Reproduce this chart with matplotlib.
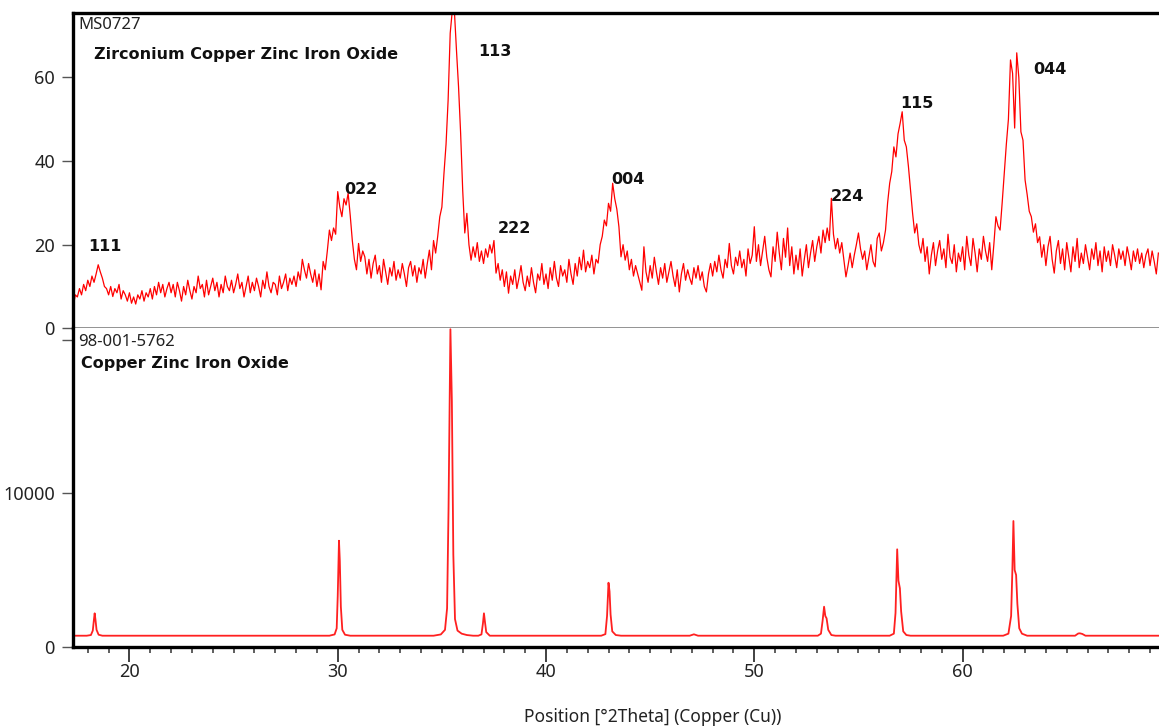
import matplotlib
matplotlib.use('Agg')
import matplotlib.pyplot as plt
from matplotlib.ticker import MultipleLocator
import numpy as np

plt.rcParams['font.family'] = ['Noto Sans', 'DejaVu Sans']

# measured pattern (MS0727), one value per 0.1 deg starting at 17.3
scan_start = 17.3
scan_step = 0.1
scan_counts = [
    5.2, 8.0, 7.5, 9.5, 8.0, 10.5, 9.0,                          # 17.3-17.9
    11.5, 10.0, 12.5, 11.0, 13.0, 15.2, 13.5, 12.0, 10.0, 9.5,    # 18
    8.0, 10.0, 7.6, 9.5, 8.5, 10.5, 7.0, 9.0, 8.0, 6.5,           # 19
    8.5, 6.0, 7.5, 5.8, 8.0, 7.0, 9.0, 6.5, 8.5, 7.5,             # 20
    9.5, 7.0, 10.0, 8.0, 11.0, 8.5, 10.5, 7.5, 9.5, 11.0,         # 21
    8.5, 10.5, 7.5, 11.0, 9.0, 6.5, 10.0, 8.0, 11.5, 9.0,         # 22
    7.0, 10.0, 8.5, 12.5, 9.5, 10.5, 7.5, 11.5, 8.0, 10.0,        # 23
    12.0, 9.0, 11.0, 7.5, 10.5, 8.5, 12.5, 10.0, 9.0, 11.5,       # 24
    8.5, 10.5, 13.0, 9.5, 11.0, 7.5, 10.0, 12.5, 8.5, 11.0,       # 25
    9.0, 12.0, 10.0, 7.5, 11.5, 9.5, 13.5, 10.0, 8.5, 11.0,       # 26
    10.5, 8.0, 12.5, 9.5, 11.0, 13.0, 9.0, 12.0, 10.5, 12.5,      # 27
    10.0, 13.5, 11.5, 16.5, 14.0, 12.0, 15.5, 13.0, 11.0, 14.0,   # 28
    10.0, 13.0, 9.2, 16.0, 14.0, 18.5, 23.5, 21.0, 24.0, 22.5,    # 29
    32.7, 29.0, 26.7, 31.0, 29.5, 32.3, 27.0, 21.0, 16.5, 14.0,   # 30
    20.3, 16.0, 18.5, 17.1, 13.0, 16.5, 12.0, 15.5, 17.5, 13.0,   # 31
    15.0, 11.0, 16.5, 13.5, 10.5, 14.5, 12.5, 16.0, 11.5, 14.0,   # 32
    12.0, 15.5, 13.0, 10.0, 14.5, 16.0, 12.5, 15.0, 11.0, 14.5,   # 33
    13.0, 16.5, 12.0, 15.5, 18.7, 14.0, 21.0, 18.0, 22.0, 26.7,   # 34
    29.0, 37.0, 44.0, 54.6, 70.6, 76.0, 76.0, 66.6, 57.8, 46.7,   # 35
    33.0, 22.8, 27.5, 20.0, 16.3, 19.5, 17.0, 20.5, 16.0, 18.5,   # 36
    15.5, 19.0, 17.0, 20.0, 18.0, 21.0, 13.2, 15.5, 11.5, 14.0,   # 37
    10.0, 13.5, 8.4, 12.5, 10.5, 14.0, 9.5, 12.0, 15.0, 11.0,     # 38
    9.0, 12.5, 10.0, 14.5, 11.0, 8.5, 13.0, 11.5, 15.5, 10.5,     # 39
    13.0, 9.5, 14.5, 11.5, 16.0, 12.0, 10.0, 15.0, 12.5, 14.0,    # 40
    11.0, 16.5, 13.0, 10.5, 15.5, 12.5, 17.0, 14.0, 18.7, 13.5,   # 41
    16.0, 14.5, 17.5, 13.0, 16.5, 15.6, 20.0, 22.0, 25.9, 24.5,   # 42
    29.9, 28.0, 34.7, 31.0, 28.5, 24.3, 17.1, 20.0, 16.3, 18.5,   # 43
    14.0, 16.5, 12.5, 15.0, 13.0, 11.0, 9.1, 19.5, 13.5, 11.0,    # 44
    15.0, 12.0, 17.0, 13.5, 10.5, 14.5, 12.0, 15.5, 11.0, 13.5,   # 45
    16.0, 12.5, 10.0, 14.0, 8.7, 13.0, 15.5, 11.5, 14.0, 12.0,    # 46
    10.5, 14.5, 12.0, 15.0, 11.5, 13.5, 10.0, 8.7, 13.0, 15.5,    # 47
    12.5, 16.0, 13.5, 17.5, 14.0, 12.0, 16.5, 14.5, 20.3, 15.0,   # 48
    13.0, 17.0, 15.0, 18.5, 14.5, 16.5, 12.5, 19.0, 15.5, 17.5,   # 49
    24.3, 16.0, 20.0, 15.0, 18.5, 22.0, 17.0, 14.0, 12.3, 19.5,   # 50
    16.0, 23.0, 18.0, 14.0, 21.5, 17.0, 24.0, 15.0, 19.5, 13.0,   # 51
    17.5, 14.0, 19.0, 12.5, 16.5, 20.0, 14.5, 18.0, 21.0, 16.0,   # 52
    19.5, 22.0, 18.0, 23.5, 20.5, 24.0, 21.0, 31.1, 22.5, 19.0,   # 53
    21.5, 18.0, 20.5, 16.5, 12.3, 15.0, 18.0, 14.5, 17.5, 20.0,   # 54
    22.8, 19.0, 16.5, 18.5, 14.0, 17.0, 20.0, 16.0, 14.7, 21.5,   # 55
    22.8, 18.5, 20.5, 23.5, 30.0, 34.7, 37.5, 43.4, 41.0, 46.5,   # 56
    49.0, 51.8, 45.0, 43.4, 38.7, 33.0, 27.5, 22.8, 25.0, 20.0,   # 57
    18.0, 21.5, 16.0, 19.5, 13.0, 17.5, 20.5, 15.0, 18.5, 21.0,   # 58
    16.5, 19.0, 14.5, 22.5, 17.0, 15.5, 20.0, 13.5, 18.0, 16.0,   # 59
    19.5, 14.0, 22.0, 17.5, 15.0, 21.5, 18.0, 13.5, 19.0, 16.5,   # 60
    22.0, 18.5, 16.0, 20.5, 14.0, 20.0, 26.7, 24.5, 23.5, 30.0,   # 61
    37.0, 44.0, 50.0, 64.2, 61.0, 47.9, 65.9, 60.0, 47.0, 45.0,   # 62
    35.5, 32.0, 28.0, 26.7, 23.0, 25.0, 20.5, 21.9, 17.0, 20.0,   # 63
    15.0, 19.5, 22.0, 16.5, 13.2, 18.5, 21.0, 15.5, 19.0, 14.0,   # 64
    20.5, 17.0, 13.5, 19.5, 16.0, 21.5, 14.5, 18.0, 15.5, 20.0,   # 65
    17.0, 14.0, 19.0, 16.5, 20.5, 15.0, 18.5, 13.5, 19.5, 16.0,   # 66
    18.5, 15.0, 20.0, 17.5, 14.5, 19.0, 16.5, 18.5, 15.0, 19.5,   # 67
    17.0, 14.0, 18.5, 16.0, 19.0, 15.5, 18.0, 14.5, 17.5, 19.0,   # 68
    15.0, 18.5, 16.0, 13.0, 18.0,                                 # 69.0-69.4
]
scan_2theta = scan_start + scan_step * np.arange(len(scan_counts))

# reference pattern 98-001-5762 (profile points)
ref_2theta = [17.29,
              17.95, 18.15, 18.24, 18.29, 18.33, 18.37, 18.42, 18.52, 18.70,
              29.60, 29.85, 29.95, 30.00, 30.06, 30.10, 30.15, 30.22, 30.35, 30.60,
              34.60, 34.95, 35.15, 35.25, 35.32, 35.41, 35.48, 35.55, 35.63, 35.75, 35.95, 36.20, 36.50,
              36.75, 36.90, 36.97, 37.02, 37.07, 37.13, 37.30,
              42.65, 42.85, 42.93, 43.00, 43.05, 43.10, 43.18, 43.35, 43.60,
              46.90, 47.10, 47.30,
              53.05, 53.20, 53.28, 53.35, 53.41, 53.47, 53.55, 53.70, 53.90,
              56.50, 56.70, 56.78, 56.86, 56.92, 56.99, 57.05, 57.15, 57.30, 57.50,
              61.95, 62.20, 62.33, 62.39, 62.44, 62.50, 62.57, 62.63, 62.72, 62.85, 63.10,
              65.40, 65.55, 65.63, 65.75, 65.90,
              69.43]
ref_counts = [717,
              717, 760, 1050, 1700, 2177, 1750, 1100, 780, 717,
              717, 800, 1200, 3300, 6910, 5600, 2600, 1100, 780, 717,
              717, 800, 1100, 2500, 9000, 20700, 16000, 6000, 1800, 1050, 850, 760, 717,
              717, 800, 1500, 2177, 1600, 950, 717,
              717, 820, 2000, 4172, 3600, 2100, 1000, 760, 717,
              717, 808, 717,
              717, 850, 1700, 2608, 2000, 1850, 1100, 760, 717,
              717, 850, 2200, 6349, 4300, 3806, 2300, 1000, 760, 717,
              717, 850, 2000, 5000, 8194, 5000, 4674, 2800, 1200, 850, 717,
              717, 860, 873, 830, 717,
              717]

peak_labels = ['111', '022', '113', '222', '004', '224', '115', '044']
peak_label_x = [18.0, 30.33, 36.73, 37.68, 43.11, 53.68, 56.99, 63.41]
peak_label_y = [19.5, 33.2, 66.2, 23.9, 35.6, 31.5, 53.7, 61.8]

W, H = 1159, 727
fig = plt.figure(figsize=(W / 100, H / 100), dpi=100)

left = 73 / W
ax1 = fig.add_axes([left, 1 - 328.3 / H, 1 - left, (328.3 - 12.7) / H])
ax2 = fig.add_axes([left, 1 - 646.7 / H, 1 - left, (646.7 - 328.3) / H], sharex=ax1)

ax1.plot(scan_2theta, scan_counts, color='#ff0000', lw=0.9)
ax2.plot(ref_2theta, ref_counts, color='#ff2020', lw=1.3)

ax1.set_xlim(17.29, 69.43)
ax1.set_ylim(0, 75.5)
ax2.set_ylim(0, 20760)

# spines
for ax in (ax1, ax2):
    ax.spines['right'].set_visible(False)
    ax.spines['left'].set_linewidth(2.4)
    ax.spines['left'].set_color('black')
ax1.spines['top'].set_linewidth(2.4)
ax1.spines['bottom'].set_color('#808080')
ax1.spines['bottom'].set_linewidth(1.2)
ax2.spines['top'].set_visible(False)
ax2.spines['bottom'].set_linewidth(2.4)

# ticks
ax1.set_yticks([0, 20, 40, 60])
ax2.set_yticks([0, 10000, 20000])
ax2.set_yticklabels(['0', '10000', ''])
for ax in (ax1, ax2):
    ax.tick_params(axis='y', direction='out', length=8, width=1, color='#555555',
                   labelsize=13, labelcolor='#222222', pad=5)
ax1.tick_params(axis='x', which='both', bottom=False, labelbottom=False)
ax2.xaxis.set_major_locator(MultipleLocator(10))
ax2.xaxis.set_minor_locator(MultipleLocator(1))
ax2.tick_params(axis='x', which='major', direction='out', length=11, width=1.3,
                color='#333333', labelsize=13, labelcolor='#222222', pad=1)
ax2.tick_params(axis='x', which='minor', direction='out', length=4, width=1.1,
                color='#333333')

bold = dict(family='DejaVu Sans', fontweight='bold', color='#111111')

# panel captions
fig.text(78 / W, 1 - 25 / H, 'MS0727', fontsize=12, color='#222222',
         ha='left', va='center')
fig.text(94 / W, 1 - 54 / H, 'Zirconium Copper Zinc Iron Oxide', fontsize=11.5,
         ha='left', va='center', **bold)
fig.text(78 / W, 1 - 341.7 / H, '98-001-5762', fontsize=12, color='#222222',
         ha='left', va='center')
fig.text(81 / W, 1 - 363.3 / H, 'Copper Zinc Iron Oxide', fontsize=11.5,
         ha='left', va='center', **bold)

for lab, x, y in zip(peak_labels, peak_label_x, peak_label_y):
    ax1.text(x, y, lab, fontsize=11.5, ha='left', va='center', **bold)

fig.text(653 / W, 1 - 716.7 / H, 'Position [°2Theta] (Copper (Cu))', fontsize=12.5,
         color='#222222', ha='center', va='center')

fig.savefig('out.png', dpi=100)
